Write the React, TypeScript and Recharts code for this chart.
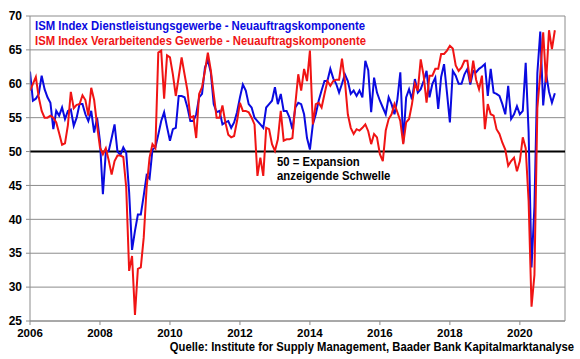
import React from 'react';
import { LineChart, Line, XAxis, YAxis, CartesianGrid, ReferenceLine } from 'recharts';

// Monthly data, first observation Dec 2005, last Dec 2020 (plotted at month end)
const FIRST_YEAR = 2005;
const FIRST_MONTH = 12;

const SERVICES_NEW_ORDERS = [
  61.8, 57.5, 57.8, 58.5, 61.2, 59.2, 58.0, 57.2, 53.3, 56.0, 55.3, 56.5,
  54.8, 56.0, 56.2, 53.8, 55.0, 57.0, 57.0, 55.5, 54.5, 56.0, 52.8, 55.0,
  51.5, 43.7, 49.9, 50.1, 52.0, 54.0, 50.0, 49.5, 50.6, 49.8, 44.0, 35.5,
  38.3, 40.7, 40.7, 43.5, 46.5, 46.0, 50.3, 50.6, 52.5, 54.5, 55.8, 53.6,
  51.6, 53.3, 53.5, 58.2, 58.2, 58.0, 56.5, 54.5, 54.5, 55.5, 58.0, 58.5,
  62.4, 63.5, 61.7, 57.0, 55.8, 56.0, 54.0, 54.3, 54.5, 53.5, 54.3, 55.8,
  58.0, 59.9, 59.0, 57.0, 56.5, 55.0, 54.5, 54.0, 53.5, 56.5, 57.0, 57.5,
  59.5, 57.0, 58.5, 56.0, 56.0, 55.0, 53.3, 56.5, 57.2, 57.0, 55.5, 52.0,
  50.3, 54.0, 55.5, 57.5, 59.0, 60.4, 60.4, 62.2, 60.8, 60.0, 58.7, 60.0,
  61.4, 60.4, 58.5, 59.0, 58.2, 59.0, 58.0, 63.4, 62.0, 55.8, 60.9, 58.7,
  57.5, 56.5, 55.5, 58.0, 57.0, 55.5, 57.7, 61.7, 51.3, 58.0, 59.2, 57.7,
  60.7, 58.7, 59.2, 60.4, 61.9, 58.0, 60.0, 60.9, 56.3, 61.0, 62.9, 58.7,
  54.3, 61.9, 61.2, 60.0, 60.0, 61.4, 62.2, 59.9, 61.9, 61.7, 62.2, 62.5,
  62.9, 58.2, 62.2, 58.7, 58.5, 58.2, 57.0, 55.5, 59.7, 54.8, 55.5, 56.7,
  55.5, 56.0, 63.1, 52.9, 32.9, 41.9, 61.6, 67.7, 56.8, 61.5, 58.8, 57.2,
  58.6,
];

const MANUFACTURING_NEW_ORDERS = [
  59.0, 60.0, 61.0, 58.0, 56.0, 55.0, 55.0, 55.3, 55.0, 54.3, 52.7, 51.0,
  51.2, 53.9, 58.8, 56.4, 56.9, 57.0, 58.3, 57.6, 55.3, 59.4, 57.6, 53.9,
  50.6, 49.6, 50.5, 48.7, 46.6, 48.6, 49.4, 49.4, 49.2, 44.7, 32.4, 34.6,
  25.9, 32.7, 32.9, 37.3, 44.7, 49.1, 51.1, 50.5, 64.6, 64.9, 57.8, 64.2,
  63.9, 61.4, 58.2, 61.0, 63.9, 61.4, 59.0, 55.0, 55.2, 52.0, 58.5, 59.5,
  61.9, 64.6, 62.0, 58.5, 55.0, 55.0, 56.8, 54.3, 52.5, 52.1, 52.3, 54.5,
  57.2, 56.0, 56.0, 55.8, 55.0, 54.0, 46.4, 49.1, 46.4, 53.5, 53.3, 51.1,
  50.1, 51.8, 56.0, 51.6, 51.8, 51.8, 52.0, 57.0, 61.4, 59.0, 62.2, 60.4,
  64.9, 54.0, 57.0, 57.2, 56.5, 58.5, 60.4, 59.7, 60.4, 60.6, 60.6, 63.7,
  60.4, 55.5, 53.5, 52.6, 53.3, 53.1, 53.5, 54.0, 53.0, 51.1, 52.6, 52.1,
  49.6, 48.6, 53.1, 54.8, 55.5, 57.0, 55.8, 54.5, 51.1, 54.3, 54.8, 57.0,
  60.0, 59.0, 63.6, 61.2, 57.2, 61.2, 61.2, 62.2, 62.2, 64.4, 64.4, 64.9,
  65.6, 65.2, 62.7, 61.9, 62.4, 63.4, 63.4, 60.2, 63.4, 60.6, 59.2, 61.2,
  53.3, 57.0, 55.5, 55.3, 53.3, 52.6, 51.3, 50.3, 47.9, 48.6, 49.1, 47.1,
  48.6, 52.1, 50.5, 42.7, 27.1, 31.8, 56.4, 61.5, 67.6, 60.2, 67.9, 65.1,
  67.9,
];

const YEAR_TICKS = [2006, 2008, 2010, 2012, 2014, 2016, 2018, 2020];
const Y_TICKS = [25, 30, 35, 40, 45, 50, 55, 60, 65, 70];
const X_DOMAIN = [2006, 2021.29];
const Y_DOMAIN = [25, 70];
const THRESHOLD = 50;

const SERIES_NAMES = {
  services: 'ISM Index Dienstleistungsgewerbe - Neuauftragskomponente',
  manufacturing: 'ISM Index Verarbeitendes Gewerbe - Neuauftragskomponente',
};
const ANNOTATION = ['50 = Expansion', 'anzeigende Schwelle'];
const SOURCE = 'Quelle: Institute for Supply Management, Baader Bank Kapitalmarktanalyse';

const BLUE = '#0a0ae0';
const RED = '#f01414';
const GRID = '#8c8c8c';
const FONT = '"Liberation Sans", Arial, Helvetica, sans-serif';

const data = SERVICES_NEW_ORDERS.map((v, i) => ({
  t: FIRST_YEAR + (FIRST_MONTH + i) / 12,
  services: v,
  manufacturing: MANUFACTURING_NEW_ORDERS[i],
}));

const tickStyle = { fontSize: 12, fontWeight: 'bold', fill: '#000', fontFamily: FONT };

// Text compressed horizontally like the reference (scaled, so its box is its drawn size)
function SqueezedText({ x, y, scale, length, fill, anchor = 'start', children }) {
  return (
    <g transform={`translate(${x} ${y}) scale(${scale} 1)`}>
      <text x={0} y={0} fill={fill} textAnchor={anchor} textLength={length} lengthAdjust="spacingAndGlyphs">
        {children}
      </text>
    </g>
  );
}

export default function App() {
  return (
    <div style={{ position: 'absolute', left: 0, top: 0, width: 580, height: 359, background: '#fff' }}>
      <LineChart width={580} height={359} data={data} margin={{ top: 16, right: 15, bottom: 0, left: 0 }}>
        <CartesianGrid vertical={false} stroke={GRID} strokeWidth={1} />
        <XAxis
          dataKey="t"
          type="number"
          domain={X_DOMAIN}
          ticks={YEAR_TICKS}
          allowDataOverflow
          height={38}
          tickSize={4}
          tickMargin={4}
          stroke={GRID}
          tick={{ ...tickStyle, fontSize: 11.5 }}
        />
        <YAxis
          type="number"
          domain={Y_DOMAIN}
          ticks={Y_TICKS}
          width={30}
          tickSize={4}
          tickMargin={4}
          stroke={GRID}
          tick={tickStyle}
        />
        <ReferenceLine x={X_DOMAIN[1]} stroke={GRID} />
        <ReferenceLine y={THRESHOLD} stroke="#000" strokeWidth={2} />
        <Line
          type="linear"
          dataKey="services"
          name={SERIES_NAMES.services}
          stroke={BLUE}
          strokeWidth={2}
          dot={false}
          isAnimationActive={false}
        />
        <Line
          type="linear"
          dataKey="manufacturing"
          name={SERIES_NAMES.manufacturing}
          stroke={RED}
          strokeWidth={2}
          dot={false}
          isAnimationActive={false}
        />
      </LineChart>
      <svg
        width={580}
        height={359}
        style={{ position: 'absolute', left: 0, top: 0, pointerEvents: 'none' }}
        fontFamily={FONT}
        fontWeight="bold"
        fontSize={12}
      >
        <SqueezedText x={35} y={29.5} scale={0.84} length={393} fill={BLUE}>
          {SERIES_NAMES.services}
        </SqueezedText>
        <SqueezedText x={35} y={45} scale={0.84} length={394} fill={RED}>
          {SERIES_NAMES.manufacturing}
        </SqueezedText>
        <SqueezedText x={277} y={165.5} scale={0.9} length={92} fill="#000">
          {ANNOTATION[0]}
        </SqueezedText>
        <SqueezedText x={277} y={179.5} scale={0.9} length={126} fill="#000">
          {ANNOTATION[1]}
        </SqueezedText>
        <SqueezedText x={574} y={350.5} scale={0.86} length={470} fill="#000" anchor="end">
          {SOURCE}
        </SqueezedText>
      </svg>
    </div>
  );
}
